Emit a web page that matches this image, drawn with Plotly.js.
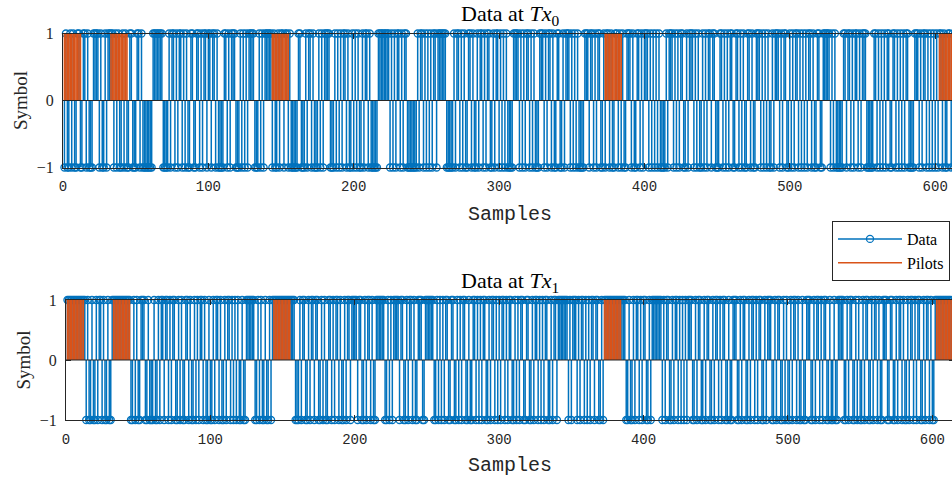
<!DOCTYPE html>
<html>
<head>
<meta charset="utf-8">
<script src="https://cdn.plot.ly/plotly-3.0.1.min.js"></script>
<style>
html,body{margin:0;padding:0;overflow:hidden;background:#fff;}
#chart{width:1040px;height:477px;}
</style>
</head>
<body>
<div id="chart"></div>
<script>
// ---- data ----
const tx0Symbols = [
-1,1,-1,-1,1,-1,1,-1,-1,1, 1,-1,-1,1,1,-1,1,-1,-1,-1, 1,1,1,1,-1,1,-1,-1,1,-1, 1,1,1,1,-1,1,-1,1,-1,-1,
1,-1,1,-1,-1,1,1,-1,-1,-1, 1,1,-1,1,-1,-1,-1,-1,-1,-1, -1,1,1,1,1,1,1,1,-1,-1, -1,-1,1,-1,1,1,-1,1,-1,1,
1,-1,1,-1,1,-1,-1,1,1,-1, -1,1,1,-1,1,-1,1,1,-1,1, 1,-1,1,1,-1,1,-1,-1,-1,-1, 1,1,-1,1,-1,1,1,1,-1,-1,
-1,1,-1,1,-1,1,-1,1,1,1, 1,-1,-1,-1,1,-1,1,-1,1,1, 1,1,1,-1,1,-1,-1,1,-1,1, 1,-1,1,1,-1,1,-1,-1,-1,-1,
-1,1,1,-1,-1,-1,1,-1,1,1, -1,1,-1,-1,-1,1,-1,1,-1,1, 1,1,1,-1,-1,-1,1,-1,1,-1, 1,-1,1,1,-1,1,-1,-1,1,-1,
1,-1,1,-1,-1,1,-1,1,1,-1, 1,-1,-1,-1,-1,-1,1,1,1,1, 1,1,1,1,-1,1,-1,1,-1,1, 1,-1,1,-1,1,1,-1,-1,-1,-1,
-1,-1,-1,1,-1,1,1,-1,1,-1, 1,-1,1,-1,1,1,-1,1,1,1, 1,1,1,-1,-1,-1,-1,-1,1,-1, 1,1,-1,1,-1,1,-1,-1,1,1,
-1,1,-1,-1,1,-1,1,1,-1,1, -1,1,1,-1,-1,1,-1,1,1,-1, 1,-1,1,-1,1,-1,-1,-1,-1,1, 1,1,1,-1,1,-1,1,-1,1,1,
-1,1,-1,1,-1,-1,-1,1,1,1, -1,1,-1,1,1,-1,1,-1,-1,1, 1,-1,-1,1,-1,1,1,1,-1,1, -1,1,-1,1,-1,-1,-1,-1,1,1,
1,-1,1,1,-1,1,-1,1,1,-1, -1,1,-1,1,1,-1,1,-1,-1,1, 1,-1,1,-1,1,-1,-1,1,1,1, -1,1,-1,-1,1,1,-1,1,-1,1,
1,1,-1,1,-1,1,-1,1,-1,1, -1,-1,-1,-1,1,-1,1,1,1,-1, 1,-1,1,-1,1,1,-1,-1,1,-1, 1,1,1,-1,1,-1,1,-1,-1,1,
-1,1,-1,1,1,-1,1,1,-1,-1, -1,1,1,-1,1,-1,1,-1,1,1, -1,-1,1,1,-1,1,-1,1,-1,-1, 1,1,-1,1,-1,-1,1,1,1,-1,
1,-1,1,-1,1,-1,-1,1,-1,1, 1,1,-1,1,-1,1,1,-1,-1,1, -1,1,-1,1,1,-1,1,-1,1,-1, 1,-1,1,1,-1,1,-1,-1,1,1,
-1,-1,1,1,1,1,1,-1,1,-1, 1,-1,-1,-1,-1,-1,1,1,-1,1, 1,-1,1,-1,1,1,-1,1,-1,1, 1,1,-1,-1,-1,-1,-1,1,1,-1,
1,-1,1,-1,1,-1,1,1,-1,-1, 1,1,-1,1,-1,1,-1,1,-1,1, 1,-1,-1,-1,-1,1,1,1,-1,1, -1,1,1,-1,1,-1,1,-1,1,-1,
1,-1,1,1,-1,1,-1,-1,1,1,-1,1,-1,1
];
const tx1Symbols = [
1,1,1,1,1,1,1,1,1,1, 1,1,1,-1,1,-1,-1,1,-1,-1, 1,-1,1,1,-1,1,-1,-1,1,-1, -1,1,1,1,1,1,1,1,1,1,
1,1,1,1,-1,-1,1,-1,1,-1, -1,1,1,1,-1,-1,1,-1,-1,-1, 1,-1,-1,1,-1,1,1,-1,1,1, -1,1,-1,1,1,-1,-1,1,-1,1,
-1,-1,1,1,-1,1,-1,-1,1,-1, 1,-1,1,1,-1,1,-1,-1,1,-1, -1,1,-1,1,1,-1,1,-1,-1,1, -1,1,1,-1,1,-1,1,-1,1,-1,
-1,1,-1,-1,1,1,1,1,1,1, -1,-1,1,-1,1,-1,-1,1,-1,-1, 1,-1,1,1,1,1,1,1,1,1, 1,1,1,1,1,1,1,1,-1,-1,
-1,1,-1,1,1,-1,-1,1,-1,1, 1,-1,1,1,-1,-1,1,-1,1,-1, -1,1,1,-1,1,-1,1,1,-1,1, -1,-1,1,-1,1,1,-1,1,1,1,
1,-1,1,1,-1,-1,1,-1,1,1, -1,1,-1,-1,1,1,1,1,1,1, -1,-1,1,-1,1,-1,1,1,1,1, -1,1,1,-1,-1,1,-1,1,1,-1,
1,-1,-1,1,1,1,-1,-1,1,1, 1,1,1,1,-1,-1,1,-1,1,-1, 1,-1,1,1,-1,-1,1,1,-1,-1, 1,-1,1,-1,1,1,-1,-1,1,-1,
-1,1,1,-1,1,-1,1,-1,1,1, -1,-1,1,-1,1,1,-1,1,-1,1, -1,1,1,-1,1,-1,1,1,-1,-1, 1,-1,1,-1,1,1,-1,-1,1,1,
-1,-1,1,-1,1,1,-1,1,-1,1, -1,1,1,-1,-1,1,-1,1,1,-1, 1,1,1,1,1,1,1,-1,1,-1, 1,1,1,-1,1,-1,1,1,-1,1,
-1,1,-1,1,1,-1,1,1,-1,-1, 1,-1,1,1,1,1,1,1,1,1, 1,1,1,1,1,1,1,-1,-1,1, -1,-1,1,-1,1,1,-1,1,-1,1,
1,-1,-1,1,-1,1,1,1,1,1, 1,1,-1,1,-1,1,1,-1,-1,1, -1,1,1,-1,1,-1,1,-1,1,-1, 1,1,1,-1,-1,1,-1,1,1,-1,
-1,1,-1,1,1,-1,-1,1,-1,1, 1,-1,1,-1,1,1,-1,-1,1,-1, -1,1,1,1,-1,-1,1,-1,1,1, -1,-1,1,-1,1,1,-1,1,-1,1,
1,-1,-1,1,-1,1,1,1,-1,-1, 1,-1,1,1,-1,-1,1,-1,1,-1, -1,1,-1,1,1,-1,1,-1,-1,1, -1,-1,1,1,1,-1,-1,1,-1,1,
1,-1,1,-1,1,1,-1,-1,1,-1, -1,1,-1,-1,1,1,1,1,-1,-1, 1,-1,1,1,-1,-1,1,-1,1,-1, -1,1,-1,1,1,-1,-1,1,-1,1,
1,-1,1,-1,-1,1,1,1,-1,-1, 1,1,-1,-1,1,-1,1,1,-1,1, -1,-1,1,-1,1,1,-1,1,-1,1, 1,-1,-1,1,-1,1,1,-1,1,-1,
-1,1,1,1,1,1,1,1,1,1,1,1,1,1
];
const pilotBlocks = [[1,12],[33,44],[144,155],[373,384],[603,614]];
const pilotValue = 1;
const xTicks = [0,100,200,300,400,500,600];
const yTicks = [-1,0,1];
const yTickText = ['\u22121','0','1'];
const seriesNames = ['Data','Pilots'];
const subplotTitles = ['Data at <i>Tx</i><sub>0</sub>','Data at <i>Tx</i><sub>1</sub>'];

// ---- build stems ----
const BLUE = '#0072BD', ORANGE = '#D95319', AX = '#262626';
function stems(vals, idxs){
  const X=[],Y=[],C=[];
  vals.forEach((v,i)=>{const n=idxs?idxs[i]:i+1; X.push(n,n,null); Y.push(v,0,null); C.push(BLUE,'rgba(0,0,0,0)','rgba(0,0,0,0)');});
  return {X,Y,C};
}
const pilotIdx=[]; pilotBlocks.forEach(b=>{for(let n=b[0];n<=b[1];n++) pilotIdx.push(n);});
const pilotVals = pilotIdx.map(()=>pilotValue);

const traces=[];
[tx0Symbols, tx1Symbols].forEach((sym,k)=>{
  const s=stems(sym);
  const p=stems(pilotVals,pilotIdx);
  const xa = k===0?'x':'x2', ya = k===0?'y':'y2';
  traces.push({x:s.X,y:s.Y,xaxis:xa,yaxis:ya,type:'scatter',mode:'lines+markers',name:seriesNames[0],
    showlegend:k===0,cliponaxis:false,
    line:{color:BLUE,width:1.5},
    marker:{symbol:'circle-open',size:7,color:s.C,line:{width:1.3}}});
  traces.push({x:p.X,y:p.Y,xaxis:xa,yaxis:ya,type:'scatter',mode:'lines',name:seriesNames[1],
    showlegend:k===0,cliponaxis:false,
    line:{color:ORANGE,width:1.6}});
});

const W=1040,H=477;
function xax(dom, anchor){
  return {domain:dom,anchor:anchor,range:[0,615],tickvals:xTicks,ticks:'inside',ticklen:5,tickcolor:AX,
    showline:true,mirror:'ticks',linecolor:AX,linewidth:1,showgrid:false,zeroline:false,
    ticklabelstandoff:6,
    tickfont:{family:'Liberation Mono, Courier New, monospace',size:14,color:AX},
    title:{text:'Samples',standoff:11,font:{family:'Liberation Mono, Courier New, monospace',size:20,color:AX}}};
}
function yax(dom, anchor){
  return {domain:dom,anchor:anchor,range:[-1,1],tickvals:yTicks,ticktext:yTickText,ticks:'inside',ticklen:5,tickcolor:AX,
    showline:true,mirror:'ticks',linecolor:AX,linewidth:1,showgrid:false,zeroline:false,
    ticklabelstandoff:5,
    tickfont:{family:'Liberation Serif, serif',size:16,color:AX},
    title:{text:'Symbol',standoff:4,font:{family:'Liberation Serif, serif',size:19,color:AX}}};
}
const layout={
  width:W,height:H,margin:{l:0,r:0,t:0,b:0,autoexpand:false},
  paper_bgcolor:'#fff',plot_bgcolor:'#fff',showlegend:true,
  xaxis:xax([63/W,957/W],'y'),
  yaxis:yax([1-167.5/H,1-33.5/H],'x'),
  xaxis2:xax([66/W,954/W],'y2'),
  yaxis2:yax([1-420/H,1-300/H],'x2'),
  legend:{xref:'container',yref:'container',x:832/W,y:1-221/H,xanchor:'left',yanchor:'top',
    bordercolor:AX,borderwidth:1,bgcolor:'#fff',itemwidth:64,tracegroupgap:0,
    font:{family:'Liberation Serif, serif',size:16,color:'#000'}},
  shapes:[
    {type:'line',xref:'x domain',yref:'y',x0:0,x1:1,y0:0,y1:0,line:{color:AX,width:1},layer:'above'},
    {type:'line',xref:'x2 domain',yref:'y2',x0:0,x1:1,y0:0,y1:0,line:{color:AX,width:1},layer:'above'}
  ],
  annotations:[
    {text:subplotTitles[0],xref:'paper',yref:'paper',x:510/W,y:1-15/H,xanchor:'center',yanchor:'middle',showarrow:false,
     font:{family:'Liberation Serif, serif',size:22,color:'#000'}},
    {text:subplotTitles[1],xref:'paper',yref:'paper',x:510/W,y:1-282/H,xanchor:'center',yanchor:'middle',showarrow:false,
     font:{family:'Liberation Serif, serif',size:22,color:'#000'}}
  ]
};
Plotly.newPlot('chart',traces,layout,{displayModeBar:false,staticPlot:true});
</script>
</body>
</html>
